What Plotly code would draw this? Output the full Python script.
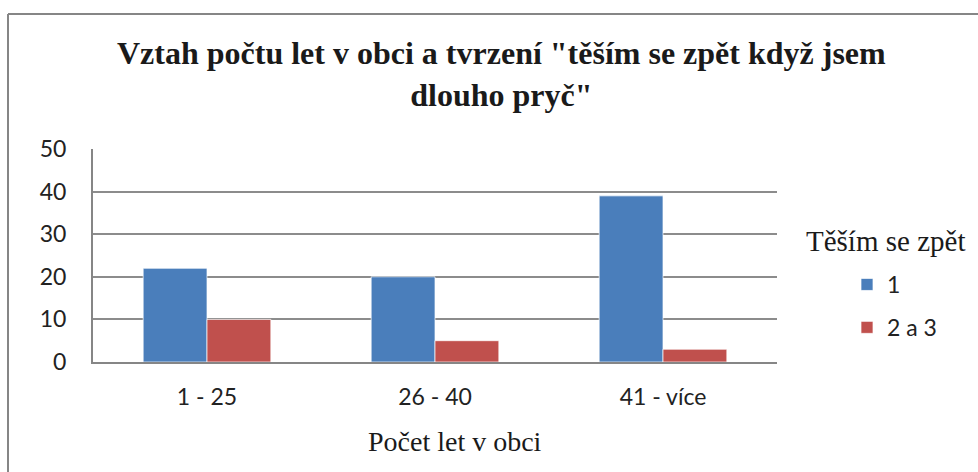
import plotly.graph_objects as go

categories = ["1 - 25", "26 - 40", "41 - více"]
values_1 = [22, 20, 39]
values_2a3 = [10, 5, 3]
series_names = ["1", "2 a 3"]
y_ticks = [0, 10, 20, 30, 40, 50]

title_text = 'Vztah počtu let v obci a tvrzení "těším se zpět když jsem<br>dlouho pryč"'
legend_title = "Těším se zpět"
x_title = "Počet let v obci"

W, H = 978, 472
ml, mr, mt, mb = 93, 201, 149, 110
pw, ph = W - ml - mr, H - mt - mb

serif = "Liberation Serif, Times New Roman, serif"
sans = "Lato, Carlito, Calibri, sans-serif"

fig = go.Figure()
fig.add_trace(go.Bar(x=categories, y=values_1, name=series_names[0],
                     marker=dict(color="#4A7EBB", line=dict(color="rgba(255,255,255,0.7)", width=1)),
                     legendgroup="a"))
fig.add_trace(go.Bar(x=categories, y=values_2a3, name=series_names[1],
                     marker=dict(color="#C0504D", line=dict(color="rgba(255,255,255,0.7)", width=1)),
                     legendgroup="b"))

fig.update_layout(
    width=W, height=H,
    margin=dict(l=ml, r=mr, t=mt, b=mb),
    paper_bgcolor="white", plot_bgcolor="white",
    barmode="group", bargap=0.44, bargroupgap=0,
    showlegend=True,
    legend=dict(x=(847 - ml) / pw, y=(362 - 263) / ph, xanchor="left", yanchor="top",
                font=dict(family=sans, size=23, color="#222222"),
                tracegroupgap=10, itemwidth=30, bgcolor="rgba(0,0,0,0)"),
    font=dict(family=sans, color="#222222"),
)

# title
fig.add_annotation(text="<b>" + title_text + "</b>", xref="paper", yref="paper",
                   x=(501 - ml) / pw, y=(362 - 74) / ph, xanchor="center", yanchor="middle",
                   showarrow=False, font=dict(family=serif, size=32, color="#1a1a1a"))
# legend title
fig.add_annotation(text=legend_title, xref="paper", yref="paper",
                   x=(885 - ml) / pw, y=(362 - 241) / ph, xanchor="center", yanchor="middle",
                   showarrow=False, font=dict(family=serif, size=29, color="#1a1a1a"))
# x axis title
fig.add_annotation(text=x_title, xref="paper", yref="paper",
                   x=(455 - ml) / pw, y=(362 - 441) / ph, xanchor="center", yanchor="middle",
                   showarrow=False, font=dict(family=serif, size=28, color="#1a1a1a"))

fig.update_xaxes(showgrid=False, showline=True, linecolor="#868686", linewidth=2,
                 ticks="", ticklabelstandoff=13,
                 tickfont=dict(family=sans, size=23, color="#222222"))
fig.update_yaxes(range=[0, 50], tickvals=y_ticks, showgrid=True, gridcolor="#8C8C8C", gridwidth=2,
                 showline=True, linecolor="#868686", linewidth=2, zeroline=False,
                 ticks="", ticklabelstandoff=20,
                 tickfont=dict(family=sans, size=23, color="#222222"))

# outer chart border (top and left edges visible)
fig.add_shape(type="line", xref="paper", yref="paper",
              x0=(8 - ml) / pw, x1=(978 - ml) / pw, y0=(362 - 14) / ph, y1=(362 - 14) / ph,
              line=dict(color="#868686", width=2))
fig.add_shape(type="line", xref="paper", yref="paper",
              x0=(8 - ml) / pw, x1=(8 - ml) / pw, y0=(362 - 14) / ph, y1=(362 - 472) / ph,
              line=dict(color="#868686", width=2))

fig.write_html("out.html", config={"displayModeBar": False},
               post_script="document.body.style.margin='0';")
